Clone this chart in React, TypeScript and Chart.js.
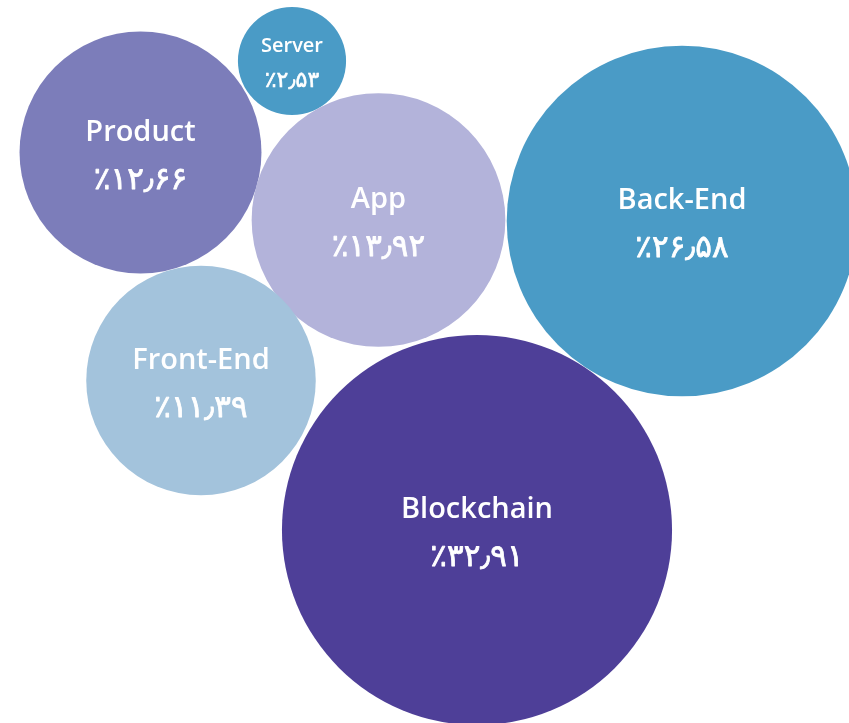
import React, { useEffect, useRef } from "react";
import { Chart, registerables } from "chart.js";

Chart.register(...registerables);

// Categories and their shares (percent)
const categories = ["Product", "Server", "App", "Back-End", "Front-End", "Blockchain"];
const shares = [12.66, 2.53, 13.92, 26.58, 11.39, 32.91];
// Packed-layout positions of each bubble (layout units)
const layoutX = [140.5, 292, 378.5, 682, 201, 477];
const layoutY = [152.5, 61, 220, 221, 380.5, 530];
const colors = ["#7c7dba", "#4a9bc6", "#b3b3da", "#4a9bc6", "#a3c3dc", "#4e3f98"];

const faDigits = ["۰", "۱", "۲", "۳", "۴", "۵", "۶", "۷", "۸", "۹"];
const toPersian = (v: number) =>
  "٪" +
  v
    .toFixed(2)
    .replace(".", "٫")
    .replace(/[0-9]/g, (d) => faDigits[Number(d)]);

// bubble area proportional to share
const RADIUS_K = 34;
const LABEL_FONT = '"Open Sans", "DejaVu Sans", sans-serif';

export default function App() {
  const ref = useRef<HTMLCanvasElement | null>(null);
  useEffect(() => {
    if (!ref.current) return;
    const labelPlugin = {
      id: "bubbleLabels",
      afterDatasetsDraw(chart: any) {
        const ctx = chart.ctx;
        const meta = chart.getDatasetMeta(0);
        ctx.save();
        ctx.fillStyle = "#ffffff";
        ctx.strokeStyle = "#ffffff";
        ctx.lineJoin = "round";
        ctx.textAlign = "center";
        ctx.textBaseline = "middle";
        ctx.direction = "ltr";
        meta.data.forEach((el: any, i: number) => {
          const small = shares[i] < 5;
          const fs = small ? 20 : 29;
          const pfs = small ? 22 : 31;
          const up = small ? 15 : 20;
          const down = small ? 20 : 28;
          ctx.font = `600 ${fs}px ${LABEL_FONT}`;
          ctx.fillText(categories[i], el.x, el.y - up);
          ctx.font = `${pfs}px "DejaVu Sans", sans-serif`;
          const pct = toPersian(shares[i]);
          ctx.lineWidth = small ? 0.6 : 0.8;
          ctx.strokeText(pct, el.x, el.y + down);
          ctx.fillText(pct, el.x, el.y + down);
        });
        ctx.restore();
      },
    };
    const chart = new Chart(ref.current, {
      type: "bubble",
      data: {
        labels: categories,
        datasets: [
          {
            data: categories.map((c, i) => ({
              x: layoutX[i],
              y: layoutY[i],
              r: RADIUS_K * Math.sqrt(shares[i]),
            })),
            backgroundColor: colors,
            hoverBackgroundColor: colors,
            borderWidth: 0,
            hoverBorderWidth: 0,
            hoverRadius: 0,
            clip: false,
          } as any,
        ],
      },
      options: {
        animation: false,
        responsive: false,
        events: [],
        layout: { padding: 0, autoPadding: false },
        plugins: { legend: { display: false }, tooltip: { enabled: false } },
        scales: {
          x: { type: "linear", min: 0, max: 849, display: false },
          y: { type: "linear", min: 0, max: 723, reverse: true, display: false },
        },
      } as any,
      plugins: [labelPlugin],
    });
    let alive = true;
    const fonts = (document as any).fonts;
    if (fonts && fonts.load) {
      Promise.all([
        fonts.load(`600 29px "Open Sans"`),
        fonts.load(`600 20px "Open Sans"`),
        fonts.load(`31px "DejaVu Sans"`, "٪۱۲۳"),
      ])
        .catch(() => null)
        .then(() => {
          if (alive) chart.update("none");
        });
    }
    return () => {
      alive = false;
      chart.destroy();
    };
  }, []);
  return (
    <div style={{ position: "fixed", left: 0, top: 0, width: 849, height: 723, background: "#fff" }}>
      <canvas ref={ref} width={849} height={723} style={{ display: "block", width: 849, height: 723 }} />
    </div>
  );
}
